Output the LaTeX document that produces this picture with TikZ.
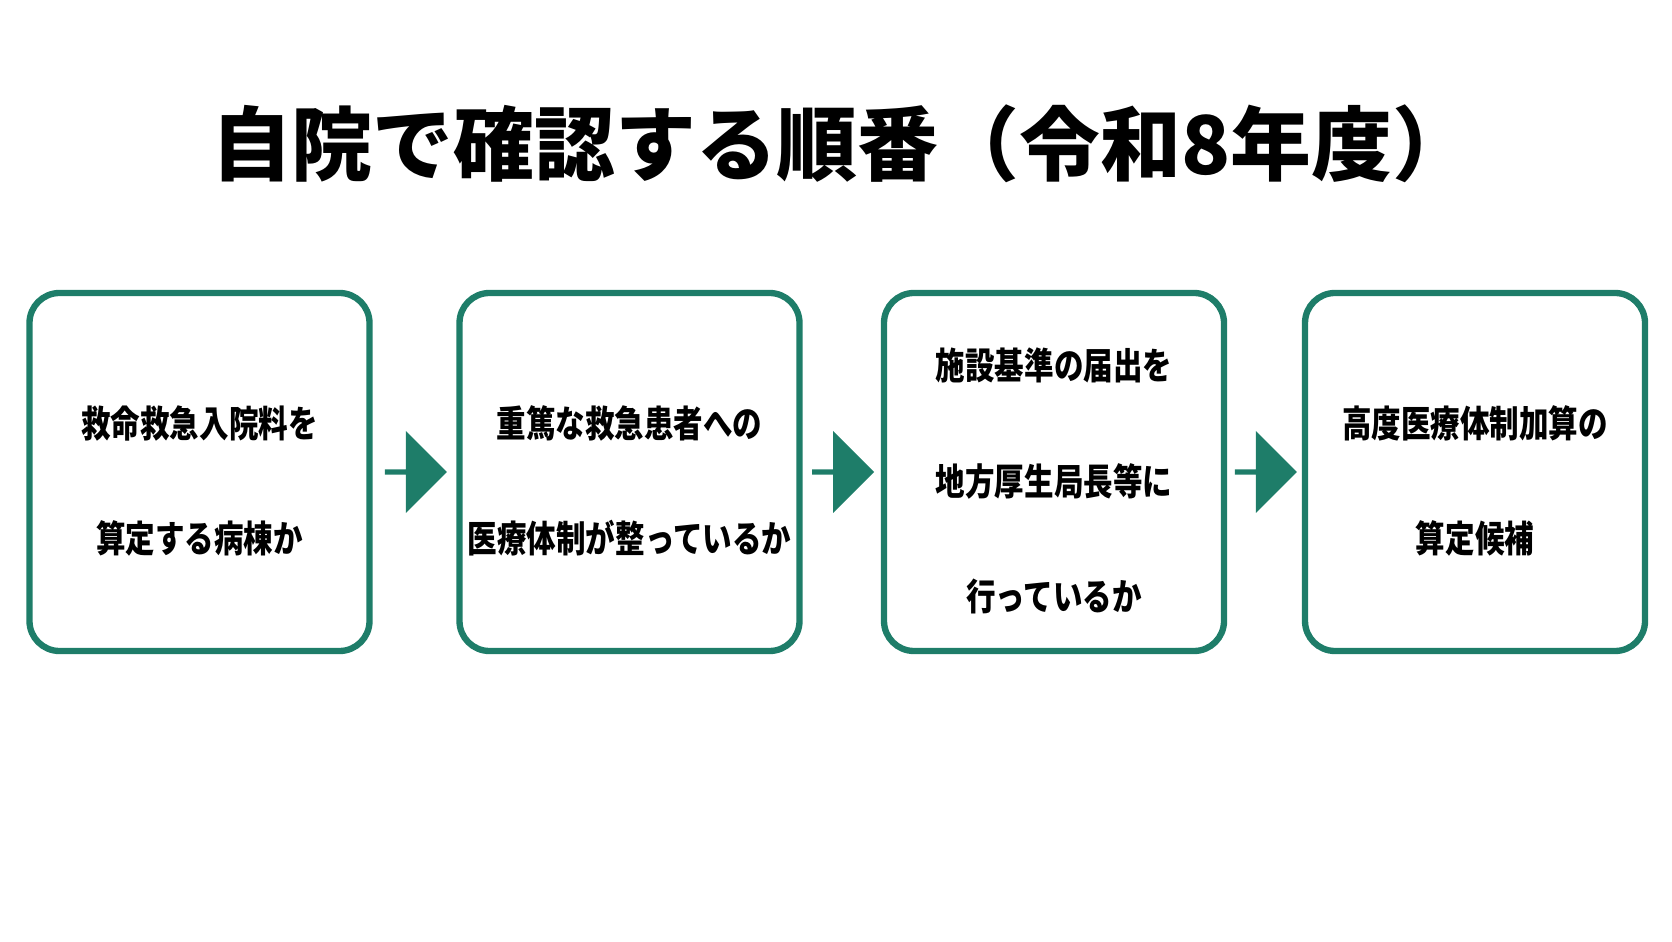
\documentclass[tikz,border=0pt]{standalone}
\usepackage{fontspec}
\setmainfont{Noto Sans CJK JP}
\usetikzlibrary{shapes.arrows,calc}
\definecolor{teal}{HTML}{1E7D69}
\newcommand{\stepbox}[3]{\node(#1)[stepitem] at (#2,4.69) {\scalebox{0.8}[1]{\begin{tabular}{@{}c@{}}#3\end{tabular}}}}

\begin{document}
\begin{tikzpicture}[
        every node/.style={font=\fontsize{10.5}{20.5}\selectfont\bfseries},
        stepitem/.style={rectangle,minimum height=3.58cm,minimum width=3.4cm,
                     rounded corners=0.3cm,line width=1.8pt,draw=teal,
                     align=center,inner sep=0pt},
        go/.style={single arrow,fill=teal,minimum height=0.62cm,
                   minimum width=0.82cm,single arrow head extend=0.1cm,inner sep=0pt}
      ]
      \useasboundingbox (0,0) rectangle (16.72,9.41);
      \renewcommand{\arraystretch}{1.6}

      % Title
      \node(title) at (8.42,7.97) {\fontsize{23}{28}\selectfont\bfseries 自院で確認する順番（令和8年度）};

      % The four steps
      \stepbox{s1}{1.995}{救命救急入院料を\\算定する病棟か};
      \stepbox{s2}{6.295}{重篤な救急患者への\\医療体制が整っているか};
      \stepbox{s3}{10.54}{施設基準の届出を\\地方厚生局長等に\\行っているか};
      \stepbox{s4}{14.75}{高度医療体制加算の\\算定候補};

      % Arrows between the steps
      \node(a1)[go] at ($(s1.east)!0.5!(s2.west)$) {};
      \node(a2)[go] at ($(s2.east)!0.5!(s3.west)$) {};
      \node(a3)[go] at ($(s3.east)!0.5!(s4.west)$) {};
    \end{tikzpicture}
\end{document}
